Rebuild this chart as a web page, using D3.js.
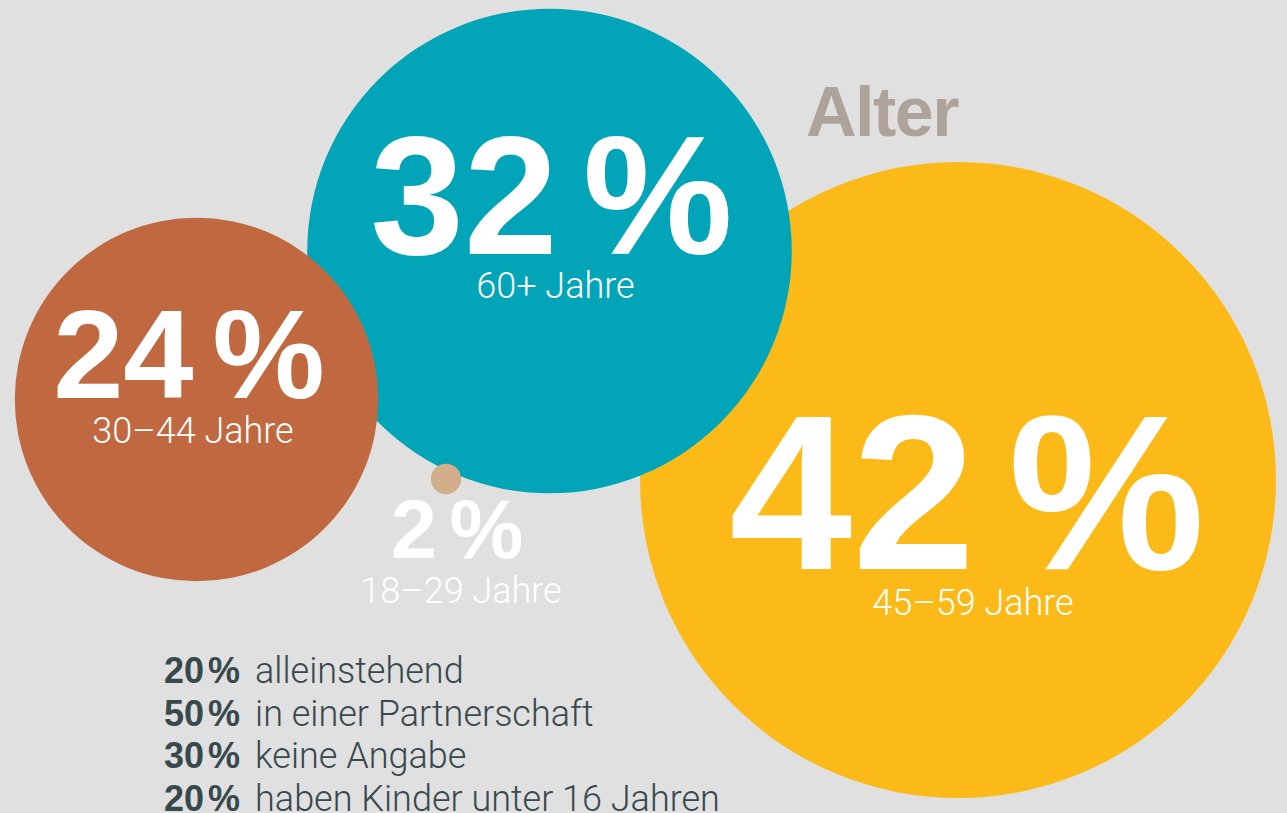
<!DOCTYPE html>
<html>
<head>
<meta charset="utf-8">
<script src="https://cdn.jsdelivr.net/npm/d3@7"></script>
<style>
  html, body { margin: 0; padding: 0; background: #e0e0e0; }
  svg { display: block; }
  .big { font-family: "Liberation Sans", Arial, sans-serif; font-weight: 700; fill: #fff; }
  .sub { font-family: Roboto, "Liberation Sans", sans-serif; font-weight: 300; fill: #fff; }
  .stat-num { font-family: "Liberation Sans", Arial, sans-serif; font-weight: 700; fill: #38494e; }
  .stat-txt { font-family: Roboto, "Liberation Sans", sans-serif; font-weight: 300; fill: #38494e; }
</style>
</head>
<body>
<div id="chart"></div>
<script>
// Altersgruppen (Bubble-Chart)
const groups = ["18–29 Jahre", "30–44 Jahre", "45–59 Jahre", "60+ Jahre"];
const shares = [2, 24, 42, 32];
const colors = ["#d2ae8a", "#c0683f", "#fbba18", "#02a4b8"];

// Zusatzangaben unten links
const statValues = [20, 50, 30, 20];
const statLabels = ["alleinstehend", "in einer Partnerschaft", "keine Angabe", "haben Kinder unter 16 Jahren"];

// Layout: Kreismittelpunkte und Versatz der Beschriftungen
const centers = [[446, 479], [196.5, 399.5], [958, 480], [549.5, 251]];
const labelShift = [
  { bx: 11, by: 79, sx: 15, sy: 124 },
  { bx: -7.5, by: -1.5, sx: -3.5, sy: 43.5 },
  { bx: 9, by: 89, sx: 15, sy: 135 },
  { bx: 2, by: 3, sx: 6, sy: 47 }
];
// Zeichenreihenfolge (hinten -> vorne)
const drawOrder = [2, 3, 1, 0];

const width = 1287;
const height = 813;

const svg = d3.select("#chart").append("svg")
  .attr("width", width)
  .attr("height", height);

svg.append("rect")
  .attr("width", width)
  .attr("height", height)
  .attr("fill", "#e0e0e0");

// Radius proportional zum Anteil
const r = d3.scaleLinear().domain([0, 42]).range([0, 318]);

const data = drawOrder.map(i => ({
  group: groups[i],
  value: shares[i],
  color: colors[i],
  cx: centers[i][0],
  cy: centers[i][1],
  shift: labelShift[i]
}));

svg.selectAll(".bubble")
  .data(data)
  .enter()
  .append("circle")
  .attr("class", "bubble")
  .attr("cx", d => d.cx)
  .attr("cy", d => d.cy)
  .attr("r", d => r(d.value))
  .attr("fill", d => d.color);

// Titel
svg.append("text")
  .attr("x", 806)
  .attr("y", 136)
  .attr("font-family", "'Liberation Sans', Arial, sans-serif")
  .attr("font-weight", 700)
  .attr("font-size", 70)
  .attr("letter-spacing", -1.5)
  .attr("fill", "#aea39b")
  .text("Alter");

// Prozentwerte
const big = svg.selectAll(".big")
  .data(data)
  .enter()
  .append("text")
  .attr("class", "big")
  .attr("text-anchor", "middle")
  .attr("x", d => d.cx + d.shift.bx)
  .attr("y", d => d.cy + d.shift.by)
  .attr("font-size", d => Math.max(r(d.value) * 0.695, 83));

big.append("tspan").text(d => d.value);
big.append("tspan").attr("dx", "0.15em").text("%");

svg.selectAll(".sub")
  .data(data)
  .enter()
  .append("text")
  .attr("class", "sub")
  .attr("text-anchor", "middle")
  .attr("x", d => d.cx + d.shift.sx)
  .attr("y", d => d.cy + d.shift.sy)
  .attr("font-size", 36)
  .text(d => d.group);

// Statistik-Zeilen
const lines = svg.selectAll(".stat")
  .data(statValues.map((v, i) => ({ value: v, label: statLabels[i] })))
  .enter()
  .append("text")
  .attr("class", "stat")
  .attr("x", 164)
  .attr("y", (d, i) => 683 + i * 42.5);

lines.append("tspan")
  .attr("class", "stat-num")
  .attr("font-size", 36)
  .text(d => d.value);
lines.append("tspan")
  .attr("class", "stat-num")
  .attr("font-size", 36)
  .attr("dx", 4)
  .text("%");
lines.append("tspan")
  .attr("class", "stat-txt")
  .attr("font-size", 36)
  .attr("dx", 15)
  .text(d => d.label);
</script>
</body>
</html>
